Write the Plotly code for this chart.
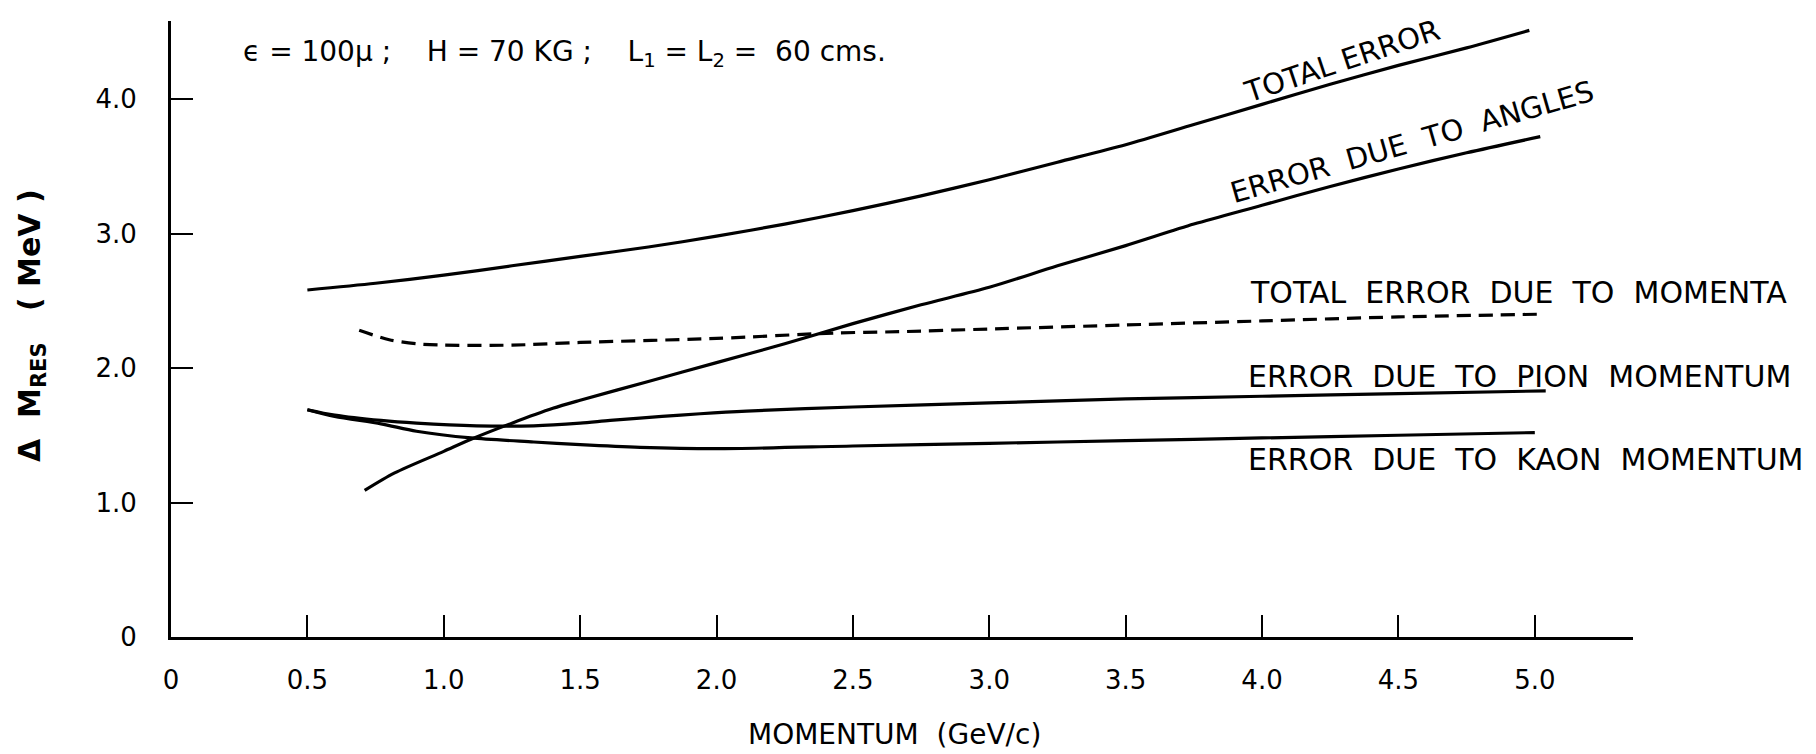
import plotly.graph_objects as go

# ---- data ----
total_x = [0.50, 0.75, 1.0, 1.25, 1.5, 1.75, 2.0, 2.25, 2.5, 2.75, 3.0, 3.25, 3.5, 3.75, 4.0, 4.25, 4.5, 4.75, 4.98]
total_y = [2.58, 2.63, 2.69, 2.76, 2.83, 2.90, 2.98, 3.07, 3.17, 3.28, 3.40, 3.53, 3.66, 3.81, 3.96, 4.11, 4.25, 4.38, 4.51]

angles_x = [0.71, 0.82, 1.0, 1.1, 1.25, 1.4, 1.5, 1.75, 2.0, 2.25, 2.5, 2.75, 3.0, 3.25, 3.5, 3.75, 4.0, 4.25, 4.5, 4.75, 5.02]
angles_y = [1.09, 1.22, 1.38, 1.47, 1.59, 1.70, 1.76, 1.90, 2.04, 2.18, 2.33, 2.47, 2.60, 2.76, 2.91, 3.07, 3.21, 3.35, 3.48, 3.60, 3.72]

momenta_x = [0.69, 0.8, 0.9, 1.0, 1.25, 1.5, 2.0, 2.43, 2.67, 3.0, 3.5, 4.0, 4.5, 5.02]
momenta_y = [2.28, 2.21, 2.18, 2.17, 2.17, 2.19, 2.22, 2.26, 2.27, 2.29, 2.32, 2.35, 2.38, 2.40]

pion_x = [0.50, 0.6, 0.77, 0.9, 1.12, 1.33, 1.5, 1.61, 1.8, 1.94, 2.11, 2.5, 3.0, 3.5, 4.0, 4.5, 5.04]
pion_y = [1.69, 1.65, 1.61, 1.59, 1.57, 1.57, 1.59, 1.61, 1.64, 1.66, 1.68, 1.71, 1.74, 1.77, 1.79, 1.81, 1.83]

kaon_x = [0.50, 0.6, 0.77, 0.9, 1.1, 1.33, 1.5, 1.72, 2.0, 2.5, 3.0, 3.5, 4.0, 4.5, 5.0]
kaon_y = [1.69, 1.64, 1.585, 1.53, 1.48, 1.45, 1.43, 1.41, 1.40, 1.42, 1.44, 1.46, 1.48, 1.50, 1.52]

x_tickvals = [0, 0.5, 1.0, 1.5, 2.0, 2.5, 3.0, 3.5, 4.0, 4.5, 5.0]
x_ticktext = ["0", "0.5", "1.0", "1.5", "2.0", "2.5", "3.0", "3.5", "4.0", "4.5", "5.0"]
y_tickvals = [0, 1.0, 2.0, 3.0, 4.0]
y_ticktext = ["0", "1.0", "2.0", "3.0", "4.0"]

FONT = "DejaVu Sans, Liberation Sans, sans-serif"
INK = "black"

fig = go.Figure()

def add_line(xs, ys, name, dash="solid", width=3.2):
    fig.add_trace(go.Scatter(x=xs, y=ys, mode="lines", name=name,
                             line=dict(color=INK, width=width, dash=dash, shape="spline", smoothing=0.8),
                             showlegend=False, hoverinfo="skip"))

add_line(total_x, total_y, "Total error")
add_line(angles_x, angles_y, "Error due to angles")
add_line(momenta_x, momenta_y, "Total error due to momenta", dash="14px,8px")
add_line(pion_x, pion_y, "Error due to pion momentum")
add_line(kaon_x, kaon_y, "Error due to kaon momentum")

# labels placed in data coordinates (inside the plot)
annos = [
    dict(x=0.257, y=4.34, text="ϵ = 100μ ;    H = 70 KG ;    L<sub>1</sub> = L<sub>2</sub> =  60 cms.",
         xanchor="left", size=28, angle=0),
    dict(x=4.294, y=4.282, text="TOTAL ERROR", xanchor="center", size=29, angle=-18.4),
    dict(x=4.55, y=3.68, text="ERROR  DUE  TO  ANGLES", xanchor="center", size=29, angle=-15.9),
    dict(x=3.95, y=2.56, text="TOTAL  ERROR  DUE  TO  MOMENTA", xanchor="left", size=30, angle=0),
    dict(x=3.94, y=1.94, text="ERROR  DUE  TO  PION  MOMENTUM", xanchor="left", size=30, angle=0),
    dict(x=3.94, y=1.32, text="ERROR  DUE  TO  KAON  MOMENTUM", xanchor="left", size=30, angle=0),
]
for a in annos:
    fig.add_annotation(x=a["x"], y=a["y"], xref="x", yref="y", text=a["text"],
                       showarrow=False, xanchor=a["xanchor"], yanchor="middle",
                       textangle=a["angle"], font=dict(family=FONT, size=a["size"], color=INK))

# axis titles (paper coordinates, outside the plot area)
fig.add_annotation(x=0.4952, y=-0.158, xref="paper", yref="paper",
                   text="MOMENTUM  (GeV/c)", showarrow=False, xanchor="center", yanchor="middle",
                   font=dict(family=FONT, size=28, color=INK))
fig.add_annotation(x=-0.095, y=0.505, xref="paper", yref="paper",
                   text="<b>Δ  M<sub>RES</sub>   ( MeV )</b>", showarrow=False, xanchor="center", yanchor="middle",
                   textangle=-90, font=dict(family=FONT, size=30, color=INK))

fig.update_layout(
    width=1808, height=746,
    margin=dict(l=163, r=183, t=13, b=117),
    paper_bgcolor="white", plot_bgcolor="white",
    font=dict(family=FONT, color=INK),
)
fig.update_xaxes(range=[0, 5.36], showgrid=False, zeroline=False,
                 showline=True, linecolor=INK, linewidth=3,
                 ticks="inside", ticklen=22, tickwidth=2, tickcolor=INK,
                 tickvals=x_tickvals, ticktext=x_ticktext,
                 tickfont=dict(family=FONT, size=26, color=INK), ticklabelstandoff=18)
fig.update_yaxes(range=[0, 4.58], showgrid=False, zeroline=False,
                 showline=True, linecolor=INK, linewidth=3,
                 ticks="inside", ticklen=22, tickwidth=2, tickcolor=INK,
                 tickvals=y_tickvals, ticktext=y_ticktext,
                 tickfont=dict(family=FONT, size=26, color=INK), ticklabelstandoff=26)

fig.write_html("out.html")
